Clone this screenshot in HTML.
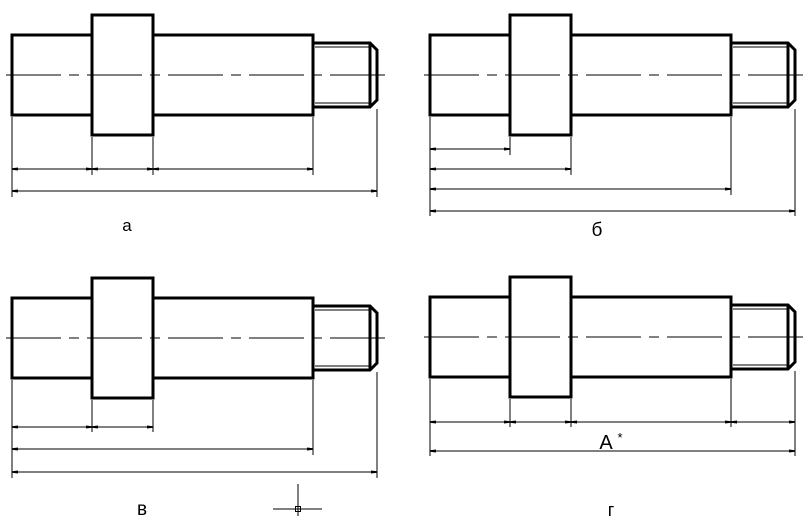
<!DOCTYPE html>
<html><head><meta charset="utf-8"><style>
html,body{margin:0;padding:0;background:#fff;width:809px;height:517px;overflow:hidden}
svg{display:block}
text{font-family:"Liberation Sans","DejaVu Sans",sans-serif;fill:#000}
</style></head><body>
<svg width="809" height="517" viewBox="0 0 809 517" xmlns="http://www.w3.org/2000/svg">
<defs>
<marker id="ar" viewBox="0 0 6 4" refX="6" refY="2" markerWidth="6" markerHeight="4" orient="auto-start-reverse" markerUnits="userSpaceOnUse"><path d="M0,0.5 L6,1.2 L6,2.8 L0,3.5Z" fill="#000"/></marker>
<g id="shaft">
<g fill="none" stroke="#000" stroke-width="3">
<rect x="12" y="35" width="80" height="80"/>
<rect x="92" y="15" width="61" height="120" fill="#fff"/>
<rect x="153" y="35" width="160" height="80"/>
<path d="M313,43 L370,43 L377,50 L377,100 L370,107 L313,107"/>
<line x1="370" y1="43" x2="370" y2="107"/>
</g>
<g stroke="#000" stroke-width="1" fill="none">
<line x1="315" y1="47" x2="369" y2="47"/>
<line x1="315" y1="103" x2="369" y2="103"/>
<line x1="6" y1="75" x2="385" y2="75" stroke-dasharray="55,8,10,8"/>
</g>
</g>
</defs>
<g stroke="#000" stroke-width="1" fill="none">
<!-- a -->
<use href="#shaft"/>
<line x1="12" y1="117" x2="12" y2="197"/><line x1="92" y1="137" x2="92" y2="175"/><line x1="153" y1="137" x2="153" y2="175"/><line x1="313" y1="117" x2="313" y2="175"/><line x1="377" y1="109" x2="377" y2="197"/>
<line x1="12" y1="169" x2="92" y2="169" marker-start="url(#ar)" marker-end="url(#ar)"/>
<line x1="92" y1="169" x2="153" y2="169" marker-start="url(#ar)" marker-end="url(#ar)"/>
<line x1="153" y1="169" x2="313" y2="169" marker-start="url(#ar)" marker-end="url(#ar)"/>
<line x1="12" y1="191" x2="377" y2="191" marker-start="url(#ar)" marker-end="url(#ar)"/>
<!-- b -->
<use href="#shaft" transform="translate(418,0)"/>
<line x1="430" y1="117" x2="430" y2="216"/><line x1="510" y1="137" x2="510" y2="155"/><line x1="571" y1="137" x2="571" y2="175"/><line x1="731" y1="117" x2="731" y2="195"/><line x1="795" y1="109" x2="795" y2="216"/>
<line x1="430" y1="149" x2="510" y2="149" marker-start="url(#ar)" marker-end="url(#ar)"/>
<line x1="430" y1="169" x2="571" y2="169" marker-start="url(#ar)" marker-end="url(#ar)"/>
<line x1="430" y1="189" x2="731" y2="189" marker-start="url(#ar)" marker-end="url(#ar)"/>
<line x1="430" y1="211" x2="795" y2="211" marker-start="url(#ar)" marker-end="url(#ar)"/>
<!-- c -->
<use href="#shaft" transform="translate(0,263)"/>
<line x1="12" y1="380" x2="12" y2="478"/><line x1="92" y1="400" x2="92" y2="432"/><line x1="153" y1="400" x2="153" y2="432"/><line x1="313" y1="380" x2="313" y2="455"/><line x1="377" y1="372" x2="377" y2="478"/>
<line x1="12" y1="427" x2="92" y2="427" marker-start="url(#ar)" marker-end="url(#ar)"/>
<line x1="92" y1="427" x2="153" y2="427" marker-start="url(#ar)" marker-end="url(#ar)"/>
<line x1="12" y1="449" x2="313" y2="449" marker-start="url(#ar)" marker-end="url(#ar)"/>
<line x1="12" y1="472" x2="377" y2="472" marker-start="url(#ar)" marker-end="url(#ar)"/>
<line x1="298" y1="484" x2="298" y2="516"/><line x1="273" y1="509" x2="322" y2="509"/>
<rect x="295.5" y="506.5" width="5" height="5"/>
<!-- d -->
<use href="#shaft" transform="translate(418,262)"/>
<line x1="430" y1="379" x2="430" y2="456"/><line x1="510" y1="399" x2="510" y2="427"/><line x1="571" y1="399" x2="571" y2="427"/><line x1="731" y1="379" x2="731" y2="427"/><line x1="795" y1="371" x2="795" y2="456"/>
<line x1="430" y1="422" x2="510" y2="422" marker-start="url(#ar)" marker-end="url(#ar)"/>
<line x1="510" y1="422" x2="571" y2="422" marker-start="url(#ar)" marker-end="url(#ar)"/>
<line x1="571" y1="422" x2="731" y2="422" marker-start="url(#ar)" marker-end="url(#ar)"/>
<line x1="731" y1="422" x2="795" y2="422" marker-start="url(#ar)" marker-end="url(#ar)"/>
<line x1="430" y1="451" x2="795" y2="451" marker-start="url(#ar)" marker-end="url(#ar)"/>
</g>
<text x="127" y="231" font-size="17" text-anchor="middle">a</text>
<text x="597" y="236" font-size="19" text-anchor="middle">б</text>
<text x="142" y="515" font-size="19" text-anchor="middle">в</text>
<text x="611" y="516" font-size="18" text-anchor="middle">г</text>
<text x="606" y="449" font-size="20" text-anchor="middle">A</text>
<text x="620" y="442" font-size="13" text-anchor="middle">*</text>
</svg>
</body></html>
